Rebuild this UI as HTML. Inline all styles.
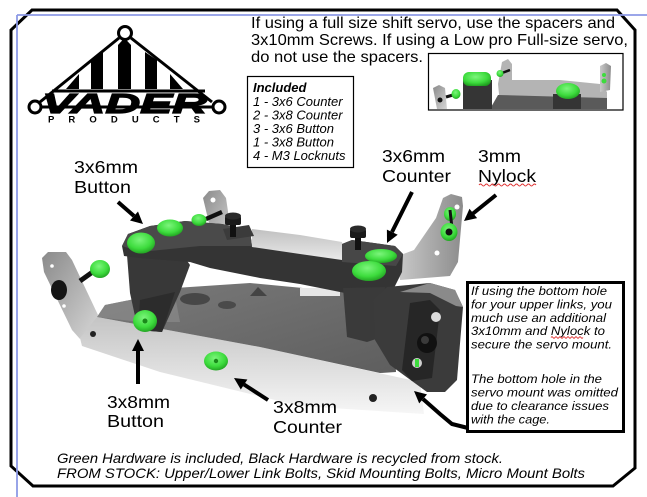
<!DOCTYPE html>
<html><head><meta charset="utf-8"><style>
html,body{margin:0;padding:0;background:#fff;}
body{width:647px;height:497px;overflow:hidden;position:relative;}
svg{position:absolute;left:0;top:0;}
text{font-family:"Liberation Sans",Arial,sans-serif;}
</style></head><body>
<svg width="647" height="497" viewBox="0 0 647 497" xmlns="http://www.w3.org/2000/svg">
<defs>
<linearGradient id="silv" x1="0" y1="0" x2="1" y2="1"><stop offset="0" stop-color="#8a8a8a"/><stop offset="1" stop-color="#d6d6d6"/></linearGradient>
<linearGradient id="silv2" x1="0" y1="0" x2="1" y2="0"><stop offset="0" stop-color="#c9c9c9"/><stop offset="1" stop-color="#8c8c8c"/></linearGradient>
<linearGradient id="front" x1="0" y1="0" x2="0" y2="1"><stop offset="0" stop-color="#c4c4c4"/><stop offset="1" stop-color="#f6f6f6"/></linearGradient>
<linearGradient id="plate" x1="0" y1="0" x2="1" y2="1"><stop offset="0" stop-color="#7a7a7a"/><stop offset="1" stop-color="#5e5e5e"/></linearGradient>
<linearGradient id="strip" x1="0" y1="0" x2="0" y2="1"><stop offset="0" stop-color="#c0c0c0"/><stop offset="1" stop-color="#ececec"/></linearGradient>
<radialGradient id="grn" cx="0.45" cy="0.35" r="0.7"><stop offset="0" stop-color="#7cf57c"/><stop offset="0.6" stop-color="#3ddc3d"/><stop offset="1" stop-color="#1e9a1e"/></radialGradient>
</defs>

<!-- frame -->
<polygon points="32,10 617,10 635,30 635,468 613,486 33,486 11,466 11,30" fill="none" stroke="#000" stroke-width="3"/>
<line x1="17" y1="15" x2="647" y2="15" stroke="#8d9ae6" stroke-width="1.8"/>
<line x1="17" y1="15" x2="17" y2="497" stroke="#8d9ae6" stroke-width="1.8"/>

<!-- logo -->
<g>
<line x1="119" y1="38" x2="40" y2="102" stroke="#000" stroke-width="3"/>
<line x1="131" y1="38" x2="212" y2="102" stroke="#000" stroke-width="3"/>
<circle cx="125" cy="33" r="6.5" fill="#fff" stroke="#000" stroke-width="3"/>
<circle cx="35" cy="107" r="6" fill="#fff" stroke="#000" stroke-width="3"/>
<circle cx="219" cy="107" r="6" fill="#fff" stroke="#000" stroke-width="3"/>
<polygon points="118,89 118,45 124.5,38 131,45 131,89" fill="#000"/>
<polygon points="91,89 91,60 103,52 103,89" fill="#000"/>
<polygon points="145,52 157,60 157,89 145,89" fill="#000"/>
<polygon points="66,89 79,74 79,89" fill="#000"/>
<polygon points="170,74 183,89 170,89" fill="#000"/>
<line x1="52" y1="91" x2="205" y2="91" stroke="#000" stroke-width="3"/>
<line x1="41" y1="107" x2="213" y2="107" stroke="#000" stroke-width="3"/>
<text x="42" y="113" font-size="28" font-weight="bold" font-style="italic" textLength="165" lengthAdjust="spacingAndGlyphs" fill="#000" stroke="#000" stroke-width="1.2">VADER</text>
<text x="48" y="122.5" font-size="9.5" font-weight="bold" textLength="152" lengthAdjust="spacing" fill="#000">PRODUCTS</text>
</g>

<!-- top paragraph -->
<text x="251" y="28" font-size="16" textLength="364" lengthAdjust="spacingAndGlyphs">If using a full size shift servo, use the spacers and</text>
<text x="251" y="45" font-size="16" textLength="377" lengthAdjust="spacingAndGlyphs">3x10mm Screws. If using a Low pro Full-size servo,</text>
<text x="251" y="62" font-size="16" textLength="172" lengthAdjust="spacingAndGlyphs">do not use the spacers.</text>

<!-- included box -->
<rect x="247.5" y="76.5" width="106" height="91" fill="#fff" stroke="#000" stroke-width="1.2"/>
<g font-size="13" font-style="italic">
<text x="253" y="92" font-weight="bold">Included</text>
<text x="253" y="106">1 - 3x6 Counter</text>
<text x="253" y="119.5">2 - 3x8 Counter</text>
<text x="253" y="133">3 - 3x6 Button</text>
<text x="253" y="146.5">1 - 3x8 Button</text>
<text x="253" y="160">4 - M3 Locknuts</text>
</g>

<!-- inset picture -->
<rect x="428.5" y="53.5" width="194.5" height="56.5" fill="#fff" stroke="#000" stroke-width="1.2"/>
<polygon points="433,88 439,85 445,88 447,109 437,109" fill="url(#silv)"/>
<circle cx="440" cy="100" r="2.5" fill="#111"/>
<line x1="446" y1="97" x2="453" y2="95" stroke="#111" stroke-width="3"/>
<ellipse cx="456" cy="94" rx="4.5" ry="5" fill="url(#grn)"/>
<polygon points="502,62 508,59 512,64 512,80 560,80 600,84 607,92 607,104 500,104 498,84" fill="#b4b4b4"/>
<polygon points="498,95 607,98 607,109 490,109" fill="#5a5a5a"/>
<rect x="463" y="80" width="29" height="29" fill="#353535"/>
<rect x="463" y="72" width="28" height="14" rx="6" fill="url(#grn)"/>
<line x1="502" y1="73" x2="510" y2="70" stroke="#111" stroke-width="2.5"/>
<circle cx="500" cy="73.5" r="3.5" fill="url(#grn)"/>
<rect x="553" y="94" width="28" height="15" fill="#353535"/>
<ellipse cx="568" cy="91" rx="12" ry="8" fill="url(#grn)"/>
<polygon points="600,66 606,63 611,66 610,90 600,92" fill="url(#silv2)"/>
<circle cx="604" cy="75" r="2" fill="#3ddc3d"/>
<circle cx="604" cy="81" r="2.5" fill="#3ddc3d"/>

<!-- main render -->
<polygon points="203,198 209,191 220,190 226,198 232,238 214,244" fill="url(#silv)"/>
<circle cx="213" cy="200" r="2.5" fill="#fff"/>
<polygon points="443,198 451,194 462,197 463,206 458,262 450,276 400,280 398,256 414,250 436,218" fill="url(#silv2)"/>
<circle cx="457" cy="207" r="2.5" fill="#fff"/>
<circle cx="437" cy="253" r="2.5" fill="#fff"/>
<polygon points="42,258 48,252 66,252 72,260 98,315 95,321 80,339 72,330 44,272" fill="url(#silv)"/>
<circle cx="52" cy="266" r="1.8" fill="#fff"/>
<circle cx="64" cy="306" r="1.8" fill="#fff"/>
<polygon points="80,338 97,317 260,347 420,382 424,414 300,406 160,372 82,346" fill="url(#front)"/>
<polygon points="97,317 105,305 130,300 175,288 250,283 345,292 392,300 396,372 380,373 260,347" fill="url(#plate)"/>
<polygon points="97,317 105,305 130,300 175,296 180,322 140,322" fill="#8a8a8a" opacity="0.7"/>
<ellipse cx="195" cy="299" rx="15" ry="6" fill="#474747"/>
<ellipse cx="227" cy="305" rx="9" ry="4" fill="#4a4a4a"/>
<polygon points="250,296 258,287 267,296" fill="#444"/>
<rect x="300" y="288" width="40" height="8" fill="#e6e6e6"/>
<circle cx="93" cy="334" r="3" fill="#222"/>
<circle cx="373" cy="398" r="4" fill="#222"/>
<polygon points="127,255 130,293 138,330 162,332 180,292 190,265 183,255" fill="#383838"/>
<polygon points="140,300 175,292 162,332 138,330" fill="#2c2c2c"/>
<polygon points="252,229 300,235 342,242 342,262 300,255 252,248" fill="url(#strip)"/>
<polygon points="122,246 128,234 150,226 185,221 222,224 250,230 252,247 300,254 342,260 342,244 352,240 395,246 403,254 402,272 393,290 383,292 345,293 300,284 260,278 210,268 190,262 140,258 124,256" fill="#343434"/>
<polygon points="122,246 128,234 150,226 185,221 222,224 250,230 252,246 200,246 140,252" fill="#4a4a4a"/>
<polygon points="342,244 352,240 395,246 403,254 396,266 342,262" fill="#474747"/>
<polygon points="223,229 249,225 254,236 227,240" fill="#3b3b3b"/>
<polygon points="343,288 347,337 367,342 382,337 385,287" fill="#3a3a3a"/>
<polygon points="373,300 387,287 430,283 455,290 463,307 457,380 445,392 427,392 390,365 375,340" fill="#3b3b3b"/>
<polygon points="430,283 455,290 463,307 456,306 430,293 400,292" fill="#8a8a8a"/>
<polygon points="410,303 430,300 440,310 432,378 412,381 402,370" fill="#262626"/>
<circle cx="436" cy="317" r="5" fill="#dcdcdc"/>
<circle cx="417" cy="363" r="5" fill="#cfcfcf"/>
<path d="M415,359 L419,359 L419,367 L415,367Z" fill="#3ddc3d"/>
<circle cx="427" cy="343" r="10" fill="#111"/>
<circle cx="425" cy="340" r="4" fill="#3a3a3a"/>
<ellipse cx="59" cy="290" rx="8" ry="10" fill="#151515"/>
<line x1="80" y1="281" x2="94" y2="271" stroke="#111" stroke-width="5"/>
<line x1="206" y1="219" x2="222" y2="212" stroke="#111" stroke-width="4.5"/>
<rect x="230" y="220" width="6" height="17" fill="#111"/>
<rect x="225" y="216" width="16" height="9" rx="2" fill="#1a1a1a"/>
<ellipse cx="233" cy="216" rx="8" ry="3.5" fill="#2a2a2a"/>
<rect x="355" y="233" width="6" height="17" fill="#111"/>
<rect x="350" y="229" width="16" height="9" rx="2" fill="#1a1a1a"/>
<ellipse cx="358" cy="229" rx="8" ry="3.5" fill="#2a2a2a"/>
<ellipse cx="141" cy="243" rx="14" ry="10.5" fill="url(#grn)"/>
<ellipse cx="170" cy="228" rx="13" ry="8.5" fill="url(#grn)"/>
<ellipse cx="199" cy="220" rx="7.5" ry="6" fill="url(#grn)"/>
<ellipse cx="100" cy="269" rx="10" ry="9" fill="url(#grn)"/>
<ellipse cx="145" cy="321" rx="12" ry="11" fill="url(#grn)"/>
<circle cx="145" cy="321" r="2.5" fill="#1a8a1a"/>
<ellipse cx="216" cy="361" rx="12" ry="9.5" fill="url(#grn)"/>
<circle cx="216" cy="361" r="2.2" fill="#1a8a1a"/>
<ellipse cx="381" cy="256" rx="16" ry="7" fill="url(#grn)"/>
<ellipse cx="369" cy="271" rx="17" ry="10" fill="url(#grn)"/>
<ellipse cx="450" cy="214" rx="6" ry="7" fill="url(#grn)"/>
<line x1="450" y1="210" x2="452" y2="228" stroke="#111" stroke-width="3"/>
<ellipse cx="449" cy="232" rx="8.5" ry="9" fill="url(#grn)"/>
<circle cx="449" cy="232" r="3.5" fill="#111"/>

<!-- arrows -->
<g stroke="#000" stroke-width="4" fill="none" stroke-linecap="butt">
<line x1="118" y1="202" x2="134" y2="216"/>
<line x1="412" y1="192" x2="392" y2="232"/>
<line x1="496" y1="195" x2="473" y2="213.5"/>
<line x1="138" y1="384" x2="138" y2="351"/>
<line x1="268" y1="400" x2="244" y2="384.5"/>
<polyline points="468,428 452,424 440,414 423,399"/>
</g>
<g fill="#000">
<polygon points="143,224 130,220.5 138,211.5"/>
<polygon points="387,243 397.7,234.8 386.9,229.6"/>
<polygon points="464,221 477.1,218.1 469.5,208.7"/>
<polygon points="138,339 132,351 144,351"/>
<polygon points="234,378 247.4,379.5 240.8,389.5"/>
<polygon points="414,391 427,394.4 419.2,403.4"/>
</g>

<!-- labels -->
<g font-size="17.5">
<text x="74" y="173" textLength="64" lengthAdjust="spacingAndGlyphs">3x6mm</text>
<text x="74" y="193" textLength="57" lengthAdjust="spacingAndGlyphs">Button</text>
<text x="382" y="162" textLength="63" lengthAdjust="spacingAndGlyphs">3x6mm</text>
<text x="382" y="182" textLength="69" lengthAdjust="spacingAndGlyphs">Counter</text>
<text x="478" y="162" textLength="43" lengthAdjust="spacingAndGlyphs">3mm</text>
<text x="478" y="182" textLength="58" lengthAdjust="spacingAndGlyphs">Nylock</text>
<text x="107" y="408" textLength="63" lengthAdjust="spacingAndGlyphs">3x8mm</text>
<text x="107" y="427" textLength="57" lengthAdjust="spacingAndGlyphs">Button</text>
<text x="273" y="413" textLength="64" lengthAdjust="spacingAndGlyphs">3x8mm</text>
<text x="273" y="433" textLength="69" lengthAdjust="spacingAndGlyphs">Counter</text>
</g>
<path d="M479,185 q1.5,-2 3,0 t3,0 t3,0 t3,0 t3,0 t3,0 t3,0 t3,0 t3,0 t3,0 t3,0 t3,0 t3,0 t3,0 t3,0 t3,0 t3,0 t3,0 t3,0" fill="none" stroke="#e03030" stroke-width="1"/>

<!-- right note box -->
<rect x="467.5" y="282.5" width="156" height="149" fill="#fff" stroke="#000" stroke-width="3"/>
<g font-size="12.3" font-style="italic">
<text x="471" y="295" textLength="136" lengthAdjust="spacingAndGlyphs">If using the bottom hole</text>
<text x="471" y="308.5" textLength="141" lengthAdjust="spacingAndGlyphs">for your upper links, you</text>
<text x="471" y="322" textLength="135" lengthAdjust="spacingAndGlyphs">much use an additional</text>
<text x="471" y="335" textLength="134" lengthAdjust="spacingAndGlyphs">3x10mm and Nylock to</text>
<text x="471" y="348.5" textLength="141" lengthAdjust="spacingAndGlyphs">secure the servo mount.</text>
<text x="471" y="383" textLength="131" lengthAdjust="spacingAndGlyphs">The bottom hole in the</text>
<text x="471" y="396.5" textLength="147" lengthAdjust="spacingAndGlyphs">servo mount was omitted</text>
<text x="471" y="410" textLength="138" lengthAdjust="spacingAndGlyphs">due to clearance issues</text>
<text x="471" y="423.5" textLength="79" lengthAdjust="spacingAndGlyphs">with the cage.</text>
</g>
<path d="M551,337.5 q1,-1.5 2,0 t2,0 t2,0 t2,0 t2,0 t2,0 t2,0 t2,0 t2,0 t2,0 t2,0 t2,0 t2,0 t2,0 t2,0 t2,0" fill="none" stroke="#e03030" stroke-width="0.9"/>

<!-- footer -->
<g font-size="14" font-style="italic">
<text x="57" y="463" textLength="446" lengthAdjust="spacingAndGlyphs">Green Hardware is included, Black Hardware is recycled from stock.</text>
<text x="57" y="478" textLength="528" lengthAdjust="spacingAndGlyphs">FROM STOCK: Upper/Lower Link Bolts, Skid Mounting Bolts, Micro Mount Bolts</text>
</g>
</svg>
</body></html>
